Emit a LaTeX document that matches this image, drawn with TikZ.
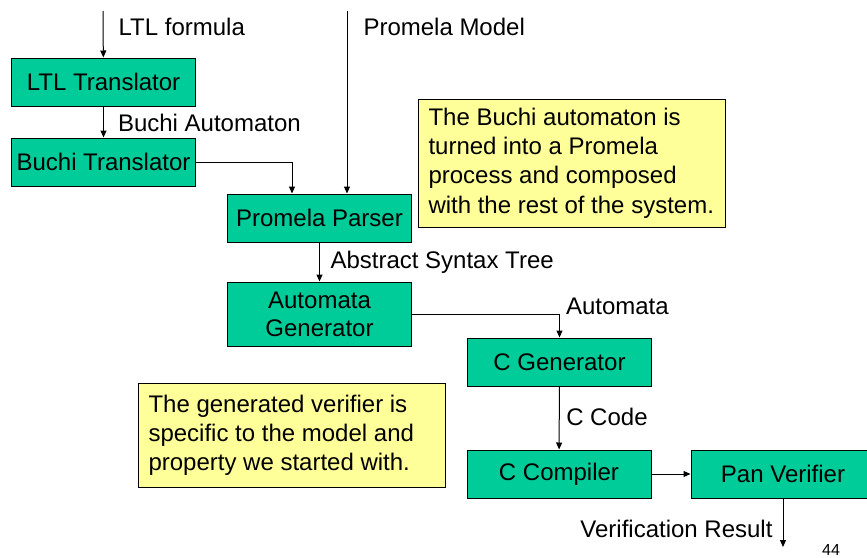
\documentclass[tikz,border=0pt]{standalone}
\usepackage{fontspec}
\setmainfont{Liberation Sans}
\usetikzlibrary{arrows.meta,calc}
\definecolor{stagegreen}{RGB}{0,204,153}
\definecolor{noteyellow}{RGB}{255,255,153}

\begin{document}
\begin{tikzpicture}[x=0.5pt,y=-0.5pt,line width=0.5pt,
   >={Triangle[length=3.5pt,width=3pt]},
   stage/.style={draw,fill=stagegreen,minimum width=92pt,minimum height=24pt,
      inner sep=0pt,align=center,font=\fontsize{12}{14}\selectfont},
   note/.style={draw,fill=noteyellow,text width=143pt,inner xsep=5.25pt,align=left,
      font=\fontsize{12}{14.6}\selectfont,
      execute at begin node={\spaceskip=\fontdimen2\font\relax}},
   lbl/.style={inner sep=0pt,font=\fontsize{12}{14}\selectfont}]
   \clip (0,0) rectangle (867,557);
% tool chain
   \node[stage] (ltl)    at (103.5,82)  {LTL Translator};
   \node[stage] (buchi)  at (103.5,162) {Buchi Translator};
   \node[stage] (parser) at (319.5,218) {Promela Parser};
   \node[stage,minimum height=32pt] (autgen) at (319.5,314) {Automata\\Generator};
   \node[stage] (cgen)   at (559.5,362) {C Generator};
   \node[stage] (ccomp)  at (559,474)   {C Compiler};
   \node[stage] (pan)    at (783,474)   {Pan Verifier};
% remarks
   \node[note,minimum height=64pt] (buchinote) at (571.5,163)
      {The Buchi automaton is\\turned into a Promela\\process and composed\\\mbox{with the rest of the system.}};
   \node[note,minimum height=52pt] (verifnote) at (291.5,435)
      {The generated verifier is\\specific to the model and\\property we started with.};
   \coordinate (ltlin)  at (103,11);
   \coordinate (pmlin)  at (347,11);
   \coordinate (result) at (783,547);
   \draw[->] (ltlin) -- node[lbl,right=7.5pt,pos=0.34] {LTL formula} (ltl);
   \draw[->] (ltl) -- node[lbl,right=7pt,pos=0.53] {Buchi Automaton} (buchi);
   \draw[->] (buchi.east) -| ($(parser.north)+(-27.5,0)$);
   \draw[->] (pmlin) -- node[lbl,right=8pt,pos=0.087] {Promela Model} (pmlin |- parser.north);
   \draw[->] (parser) -- node[lbl,right=5.25pt,pos=0.52] {Abstract Syntax Tree} (autgen);
   \draw[->] (autgen.east) -| node[lbl,anchor=base west,xshift=3pt,pos=0.5] {Automata} (cgen.north);
   \draw[->] (cgen) -- node[lbl,right=3.25pt,pos=0.48] {C Code} (ccomp);
   \draw[->] (ccomp) -- (pan);
   \draw[->] (pan) -- node[lbl,left=5pt,pos=0.63] {Verification Result} (result);
   \node[lbl,anchor=base,font=\fontsize{8}{9}\selectfont] (pagenum) at (831,555) {44};
\end{tikzpicture}
\end{document}
